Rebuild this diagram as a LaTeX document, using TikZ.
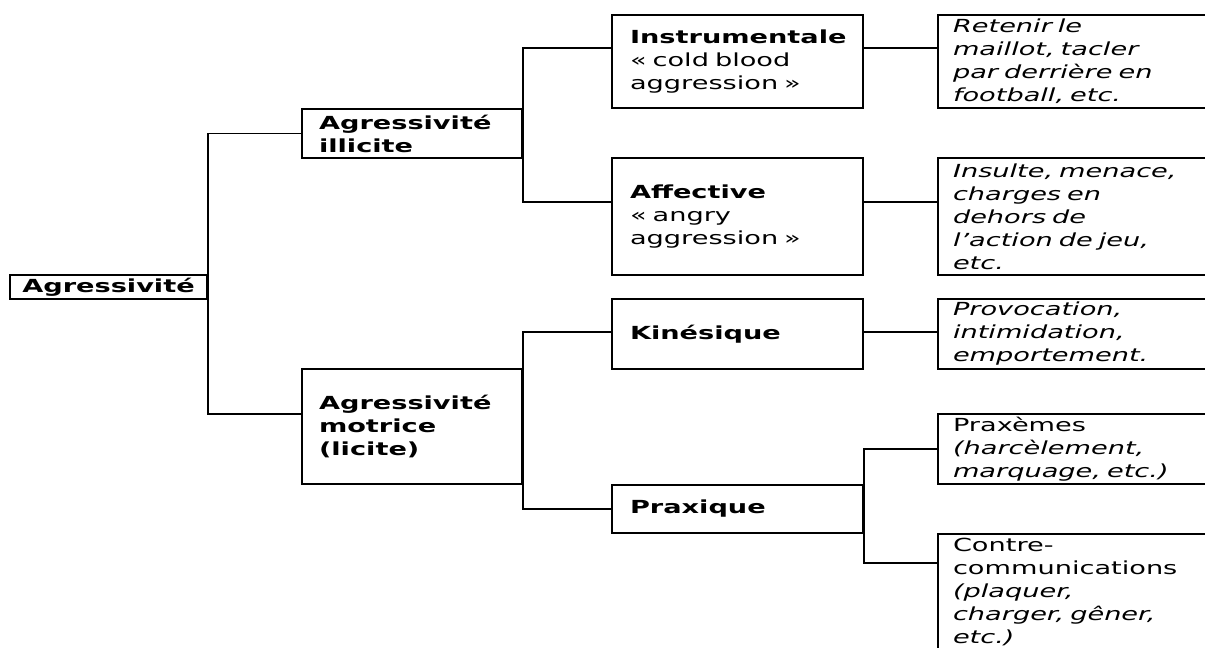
\documentclass[tikz,border=0pt]{standalone}
\usepackage{fontspec}
\setmainfont{DejaVu Sans}[FakeStretch=1.51]
\usepackage{tikz}
\usetikzlibrary{positioning}

\begin{document}
\begin{tikzpicture}[x=1pt, y=-1pt,
            box/.style={draw, line width=1.8pt, align=left, inner ysep=0pt,
              font=\fontsize{18}{23}\selectfont},
            mid/.style={box, inner xsep=17pt, text width=186pt,
              font=\fontsize{18}{23}\selectfont\bfseries},
            sub/.style={box, inner xsep=18pt, text width=215pt},
            leaf/.style={box, inner xsep=15pt, text width=270pt,
              font=\fontsize{18}{23}\selectfont\itshape},
            link/.style={line width=1.8pt}
        ]
        \useasboundingbox (0,0) rectangle (1205,648);
        \clip (0,0) rectangle (1205,648);

        % Nodes (manual layout to match figure)
        \node[box, font=\fontsize{18}{23}\selectfont\bfseries, inner sep=0pt,
          minimum width=197pt, minimum height=24pt, align=center] (root) at (108.5, 287) {Agressivité};

        \node[mid, minimum height=49pt] (illi) at (412, 133.5) {Agressivité\\illicite};
        \node[mid, minimum height=115pt] (mot) at (412, 426.5) {Agressivité\\motrice\\(licite)};

        \node[sub, minimum height=93pt] (instr) at (737.5, 61.5) {\textbf{Instrumentale}\\«~cold blood\\aggression~»};
        \node[sub, minimum height=117pt] (aff) at (737.5, 216.5) {\textbf{Affective}\\«~angry\\aggression~»};
        \node[sub, minimum height=70pt] (kin) at (737.5, 334) {\textbf{Kinésique}};
        \node[sub, minimum height=48pt] (prax) at (737.5, 509) {\textbf{Praxique}};

        \node[leaf, minimum height=93pt] (ret) at (1088, 61.5) {Retenir le\\maillot, tacler\\par derrière en\\football, etc.};
        \node[leaf, minimum height=117pt] (ins) at (1088, 216.5) {Insulte, menace,\\charges en\\dehors de\\l’action de jeu,\\etc.};
        \node[leaf, minimum height=70pt] (pro) at (1088, 334) {Provocation,\\intimidation,\\emportement.};
        \node[leaf, minimum height=70pt] (pxm) at (1088, 449) {\upshape Praxèmes\\\itshape (harcèlement,\\marquage, etc.)};
        \node[leaf, minimum height=116pt] (ctr) at (1088, 592) {\upshape Contre-\\communications\\\itshape (plaquer,\\charger, gêner,\\etc.)};

        % Edges
        \draw[link] (illi.west) -| (root.east);
        \draw[link] ([yshift=12.5pt]mot.west) -| (root.east);

        \draw[link] ([yshift=13.5pt]instr.west) -| (illi.east);
        \draw[link] ([yshift=14.5pt]aff.west) -| (illi.east);
        \draw[link] ([yshift=2pt]kin.west) -| (mot.east);
        \draw[link] (prax.west) -| (mot.east);

        \draw[link] ([yshift=13.5pt]instr.east) -- ([yshift=13.5pt]ret.west);
        \draw[link] ([yshift=14.5pt]aff.east) -- ([yshift=14.5pt]ins.west);
        \draw[link] ([yshift=2pt]kin.east) -- ([yshift=2pt]pro.west);
        \draw[link] (pxm.west) -| (prax.east);
        \draw[link] ([yshift=29pt]ctr.west) -| (prax.east);

\end{tikzpicture}
\end{document}
